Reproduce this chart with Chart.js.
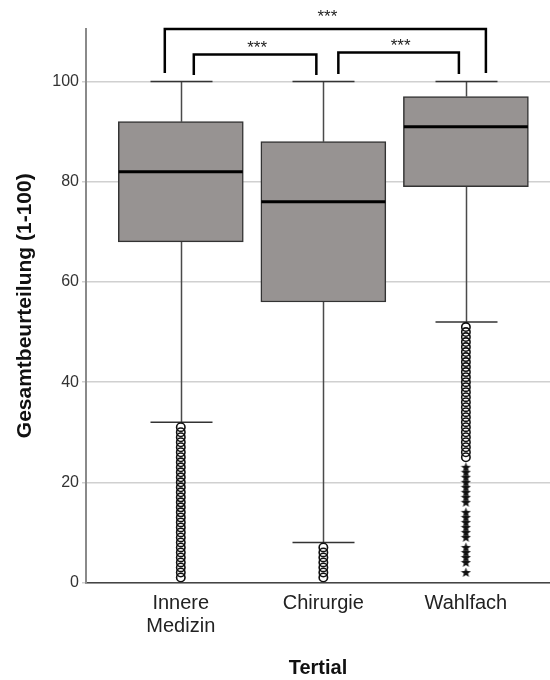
<!DOCTYPE html>
<html><head><meta charset="utf-8">
<script src="https://cdn.jsdelivr.net/npm/chart.js@4.4.0/dist/chart.umd.min.js"></script>
<style>html,body{margin:0;padding:0;background:#fff}canvas{display:block}</style>
</head><body>
<canvas id="c" width="550" height="680"></canvas>
<script>
const categories = [["Innere", "Medizin"], "Chirurgie", "Wahlfach"];
const xTitle = "Tertial";
const yTitle = "Gesamtbeurteilung (1-100)";
const yTicks = [0, 20, 40, 60, 80, 100];
const q1 = [68, 56, 79];
const median = [82, 76, 91];
const q3 = [92, 88, 97];
const whiskerLow = [32, 8, 52];
const whiskerHigh = [100, 100, 100];
const outliersInnere = [31, 30, 29, 28, 27, 26, 25, 24, 23, 22, 21, 20, 19, 18, 17, 16, 15, 14, 13, 12, 11, 10, 9, 8, 7, 6, 5, 4, 3, 2, 1];
const outliersChirurgie = [7, 6, 5, 4, 3, 2, 1];
const outliersWahlfach = [51, 50, 49, 48, 47, 46, 45, 44, 43, 42, 41, 40, 39, 38, 37, 36, 35, 34, 33, 32, 31, 30, 29, 28, 27, 26, 25];
const extremesWahlfach = [23, 22, 21, 20, 19, 18, 17, 16, 14, 13, 12, 11, 10, 9, 7, 6, 5, 4, 2];
const comparisons = [[1, 3, "***"], [1, 2, "***"], [2, 3, "***"]];

const FONT = "'Liberation Sans', Arial, sans-serif";

// 5-point star marker
const starImg = (() => {
  const c = document.createElement('canvas');
  c.width = 11; c.height = 11;
  const g = c.getContext('2d');
  g.fillStyle = '#111';
  g.beginPath();
  for (let k = 0; k < 10; k++) {
    const r = k % 2 === 0 ? 5.3 : 2.2;
    const a = -Math.PI / 2 + k * Math.PI / 5;
    const px = 5.5 + r * Math.cos(a), py = 5.8 + r * Math.sin(a);
    if (k === 0) g.moveTo(px, py); else g.lineTo(px, py);
  }
  g.closePath(); g.fill();
  return c;
})();

const boxParts = {
  id: 'boxParts',
  beforeDatasetsDraw(chart) {
    const { ctx, scales: { x, y } } = chart;
    ctx.save();
    ctx.lineWidth = 1.5;
    categories.forEach((c, i) => {
      const cx = Math.round(x.getPixelForValue(i + 1)) + 0.5;
      const capHalf = 31;
      ctx.strokeStyle = '#4a4a4a';
      ctx.beginPath();
      ctx.moveTo(cx, y.getPixelForValue(q3[i])); ctx.lineTo(cx, y.getPixelForValue(whiskerHigh[i]));
      ctx.moveTo(cx, y.getPixelForValue(q1[i])); ctx.lineTo(cx, y.getPixelForValue(whiskerLow[i]));
      ctx.stroke();
      ctx.strokeStyle = '#333';
      ctx.beginPath();
      const yh = y.getPixelForValue(whiskerHigh[i]), yl = y.getPixelForValue(whiskerLow[i]);
      ctx.moveTo(cx - capHalf, yh); ctx.lineTo(cx + capHalf, yh);
      ctx.moveTo(cx - capHalf, yl); ctx.lineTo(cx + capHalf, yl);
      ctx.stroke();
    });
    ctx.restore();
  },
  afterDatasetsDraw(chart) {
    const { ctx, scales: { x, y } } = chart;
    ctx.save();
    ctx.strokeStyle = '#000';
    ctx.lineWidth = 3;
    categories.forEach((c, i) => {
      const cx = x.getPixelForValue(i + 1);
      const ym = y.getPixelForValue(median[i]);
      ctx.beginPath();
      ctx.moveTo(cx - 62, ym); ctx.lineTo(cx + 62, ym);
      ctx.stroke();
    });
    ctx.restore();
  },
  afterDraw(chart) {
    const { ctx, scales: { x, y } } = chart;
    const style = {
      '1-3': { top: 110.5, legL: 101.7, legR: 101.7, offL: -16, offR: 20, txt: 12 },
      '1-2': { top: 105.4, legL: 101.3, legR: 101.3, offL: 13, offR: -7, txt: 6 },
      '2-3': { top: 105.8, legL: 101.5, legR: 101.5, offL: 15, offR: -7, txt: 6 }
    };
    ctx.save();
    ctx.strokeStyle = '#000';
    ctx.lineWidth = 2.5;
    ctx.fillStyle = '#222';
    ctx.font = '17px ' + FONT;
    ctx.textAlign = 'center';
    ctx.textBaseline = 'middle';
    comparisons.forEach(([a, b, label]) => {
      const s = style[a + '-' + b];
      const xl = x.getPixelForValue(a) + s.offL;
      const xr = x.getPixelForValue(b) + s.offR;
      const yt = y.getPixelForValue(s.top);
      ctx.beginPath();
      ctx.moveTo(xl, y.getPixelForValue(s.legL));
      ctx.lineTo(xl, yt);
      ctx.lineTo(xr, yt);
      ctx.lineTo(xr, y.getPixelForValue(s.legR));
      ctx.stroke();
      ctx.fillText(label, (xl + xr) / 2 + 2, yt - s.txt);
    });
    ctx.restore();
  }
};

const pointBase = { type: 'scatter', pointRadius: 4.2, pointHoverRadius: 4.2, borderColor: '#111', backgroundColor: 'rgba(0,0,0,0)', borderWidth: 1.6 };

new Chart(document.getElementById('c'), {
  data: {
    datasets: [
      {
        type: 'bar',
        data: categories.map((c, i) => ({ x: i + 1, y: [q1[i], q3[i]] })),
        backgroundColor: '#979392',
        borderColor: '#333',
        borderWidth: 1.5,
        borderSkipped: false,
        barThickness: 125
      },
      Object.assign({}, pointBase, { data: outliersInnere.map(v => ({ x: 1, y: v })), pointStyle: 'circle' }),
      Object.assign({}, pointBase, { data: outliersChirurgie.map(v => ({ x: 2, y: v })), pointStyle: 'circle' }),
      Object.assign({}, pointBase, { data: outliersWahlfach.map(v => ({ x: 3, y: v })), pointStyle: 'circle' }),
      Object.assign({}, pointBase, { data: extremesWahlfach.map(v => ({ x: 3, y: v })), pointStyle: starImg })
    ]
  },
  options: {
    responsive: false,
    devicePixelRatio: 1,
    animation: false,
    layout: { autoPadding: false, padding: { top: 29, right: 0, left: 0, bottom: 0 } },
    plugins: { legend: { display: false }, tooltip: { enabled: false } },
    scales: {
      x: {
        type: 'linear',
        offset: false,
        min: 0.335,
        max: 3.59,
        afterBuildTicks(s) { s.ticks = categories.map((c, i) => ({ value: i + 1 })); },
        afterFit(s) { s.height = 97.5; s.paddingRight = 0; },
        grid: { display: false, drawTicks: false, offset: false },
        border: { display: true, color: '#444', width: 1.5 },
        ticks: {
          autoSkip: false,
          maxRotation: 0,
          padding: 10,
          color: '#222',
          font: { family: FONT, size: 20, lineHeight: 1.13 },
          callback: (v) => categories[v - 1]
        },
        title: { display: true, text: xTitle, color: '#111', font: { family: FONT, size: 20, weight: 'bold' }, padding: { top: 0, bottom: 0 } }
      },
      y: {
        min: 0,
        max: 110.5,
        afterBuildTicks(s) { s.ticks = yTicks.map(v => ({ value: v })); },
        afterFit(s) { s.width = 86; },
        grid: { color: '#d0d0d0', lineWidth: 1.5, tickLength: 4, drawTicks: true },
        border: { display: true, color: '#8a8a8a', width: 2 },
        ticks: { color: '#333', padding: 3, font: { family: FONT, size: 16 } },
        title: { display: true, text: yTitle, color: '#111', font: { family: FONT, size: 21, weight: 'bold' }, padding: { top: 12.4, bottom: 0 } }
      }
    }
  },
  plugins: [boxParts]
});
</script>
</body></html>
